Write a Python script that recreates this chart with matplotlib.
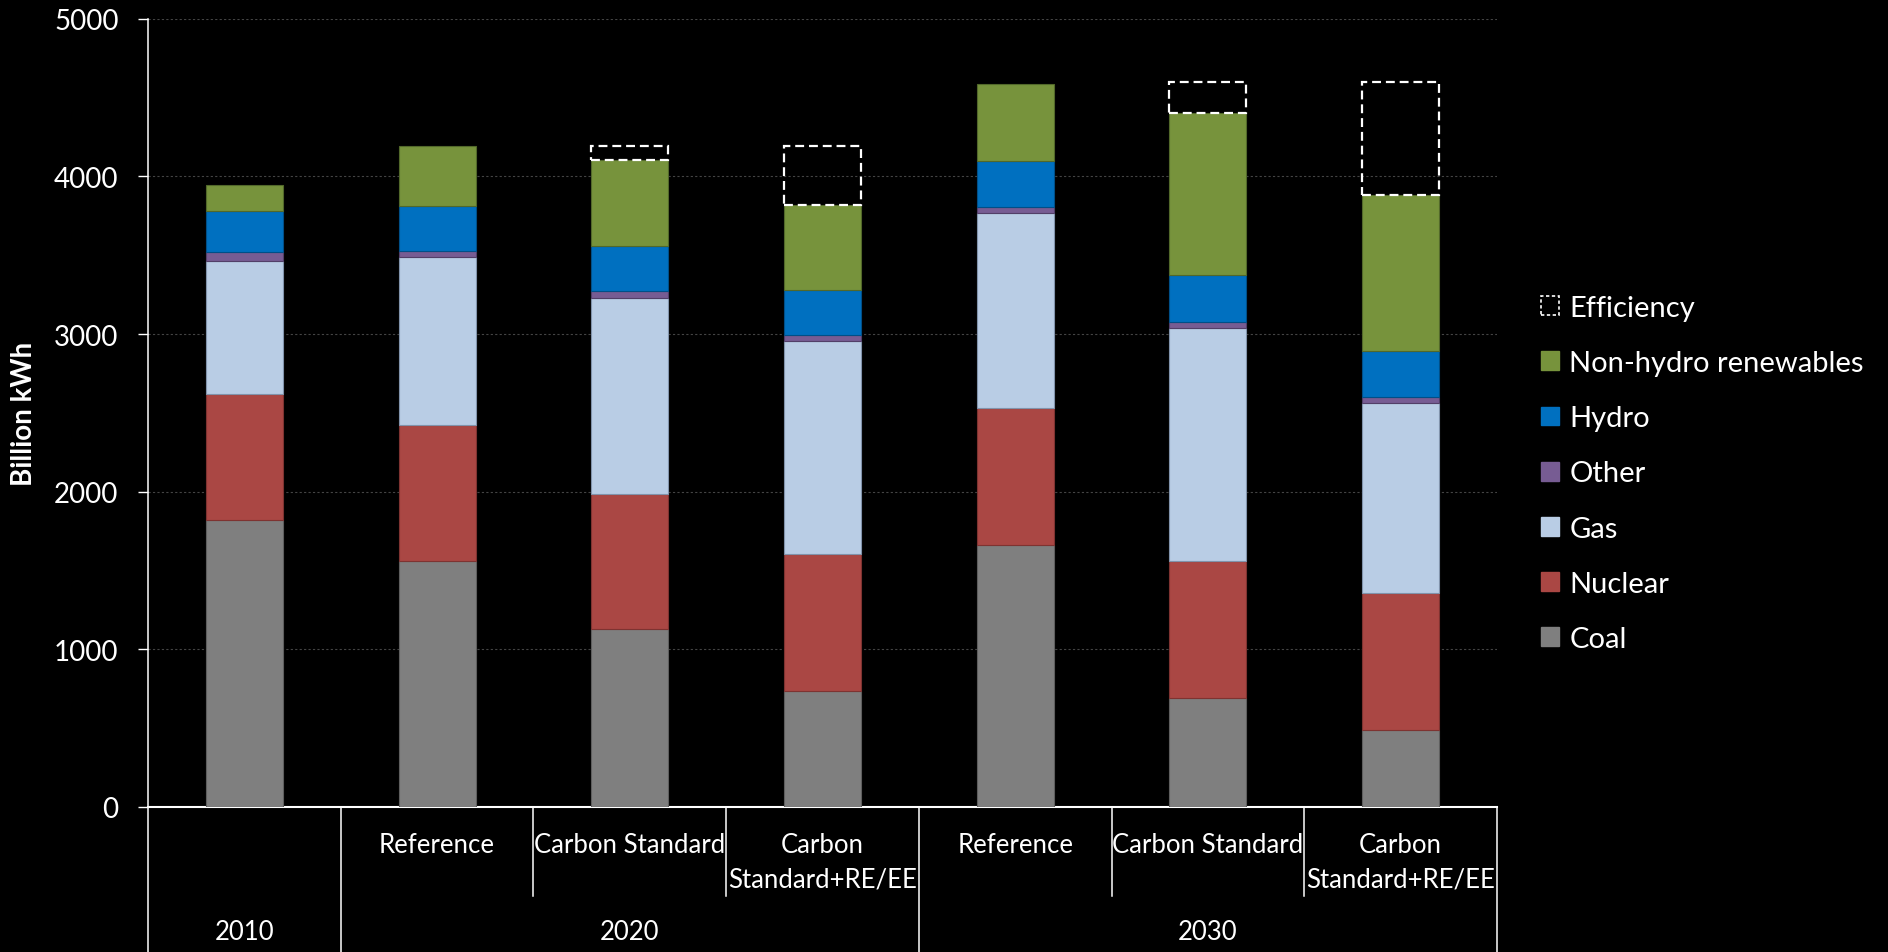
import numpy as np
import matplotlib.pyplot as plt
from matplotlib.patches import Patch

plt.rcParams['font.family'] = ['Lato', 'DejaVu Sans']

# ── data (billion kWh) ────────────────────────────────────────────
scenarios = ['', 'Reference', 'Carbon Standard', 'Carbon\nStandard+RE/EE',
             'Reference', 'Carbon Standard', 'Carbon\nStandard+RE/EE']
years     = ['2010', '2020', '2030']
year_cats = [[0], [1, 2, 3], [4, 5, 6]]   # which bars belong to which year

coal       = [1820, 1561, 1126, 739, 1665, 691, 490]
nuclear    = [801, 861, 861, 867, 869, 869, 869]
gas        = [843, 1064, 1244, 1353, 1236, 1481, 1203]
other      = [55, 39, 41, 38, 38, 38, 38]
hydro      = [262, 288, 285, 285, 292, 296, 292]
renewables = [165, 377, 548, 539, 488, 1028, 991]
efficiency = [0, 0, 86, 370, 0, 194, 716]

series = [
    ('Coal',                 coal,       '#7F7F7F', '#5E5E5E'),
    ('Nuclear',              nuclear,    '#AA4744', '#7E3331'),
    ('Gas',                  gas,        '#B9CDE5', '#8193AB'),
    ('Other',                other,      '#775C93', '#523F68'),
    ('Hydro',                hydro,      '#0070C0', '#004F88'),
    ('Non-hydro renewables', renewables, '#77933C', '#52682A'),
]

# ── figure ────────────────────────────────────────────────────────
W, H = 1888, 953
fig = plt.figure(figsize=(W / 100, H / 100), dpi=100, facecolor='black')
ax = fig.add_axes([148 / W, 1 - 808 / H, (1497 - 148) / W, (808 - 19.8) / H])
ax.set_facecolor('black')

x = np.arange(len(scenarios))
bottom = np.zeros(len(x))
handles = []
for name, vals, fc, ec in series:
    ax.bar(x, vals, 0.4, bottom=bottom, color=fc, edgecolor=ec, linewidth=0.8, zorder=3)
    bottom += np.array(vals)
    handles.append(Patch(facecolor=fc, edgecolor=fc, label=name))

eff = np.array(efficiency)
m = eff > 0
ax.bar(x[m], eff[m], 0.4, bottom=bottom[m], facecolor='none', edgecolor='white',
       linewidth=1.6, linestyle=(0, (4, 2.2)), zorder=4)
handles.append(Patch(facecolor='black', edgecolor='white', linestyle=(0, (2, 1.5)),
                     linewidth=1.2, label='Efficiency'))

ax.set_xlim(-0.5, len(x) - 0.5)
ax.set_ylim(0, 5000)
ax.set_yticks(np.arange(0, 5001, 1000))
ax.yaxis.grid(True, color='#444444', linestyle=(0, (2, 2)), linewidth=0.8)
ax.set_axisbelow(True)
ax.set_xticks([])
ax.tick_params(axis='y', colors='white', labelsize=20, length=7.2, width=1.0, pad=14)
for s in ('top', 'right'):
    ax.spines[s].set_visible(False)
ax.spines['left'].set_color('white')
ax.spines['left'].set_linewidth(1.1)
ax.spines['bottom'].set_color('white')
ax.spines['bottom'].set_linewidth(1.5)

ax.set_ylabel('Billion kWh', color='white', fontsize=20, fontweight='bold', labelpad=12)

# ── multi-level category axis ─────────────────────────────────────
tr = ax.get_xaxis_transform()
ax_h = (808 - 19.8)
y_long = -(953 - 808) / ax_h
y_short = -(897 - 808) / ax_h
y_sub = -(833 - 808) / ax_h
y_year = -(933 - 808) / ax_h

edges_long = [-0.5] + [cats[-1] + 0.5 for cats in year_cats]
for e in edges_long:
    ax.plot([e, e], [0, y_long], color='white', lw=1.1, transform=tr, clip_on=False)
for cats in year_cats:
    for c in cats[:-1]:
        ax.plot([c + 0.5, c + 0.5], [0, y_short], color='white', lw=1.1,
                transform=tr, clip_on=False)

for xi, lab in zip(x, scenarios):
    ax.text(xi, y_sub, lab, transform=tr, ha='center', va='top', color='white',
            fontsize=18.5, linespacing=1.5)
for yr, cats in zip(years, year_cats):
    ax.text(np.mean(cats), y_year, yr, transform=tr, ha='center', va='center',
            color='white', fontsize=18.5)

# ── legend ────────────────────────────────────────────────────────
leg = fig.legend(handles=handles[::-1], loc='center left',
                 bbox_to_anchor=(1541 / W, 1 - 474.4 / H), frameon=False,
                 fontsize=21, labelcolor='white', handlelength=0.62, handleheight=0.62,
                 handletextpad=0.35, labelspacing=1.0, borderpad=0, borderaxespad=0)

fig.savefig('out.png', dpi=100, facecolor='black')
